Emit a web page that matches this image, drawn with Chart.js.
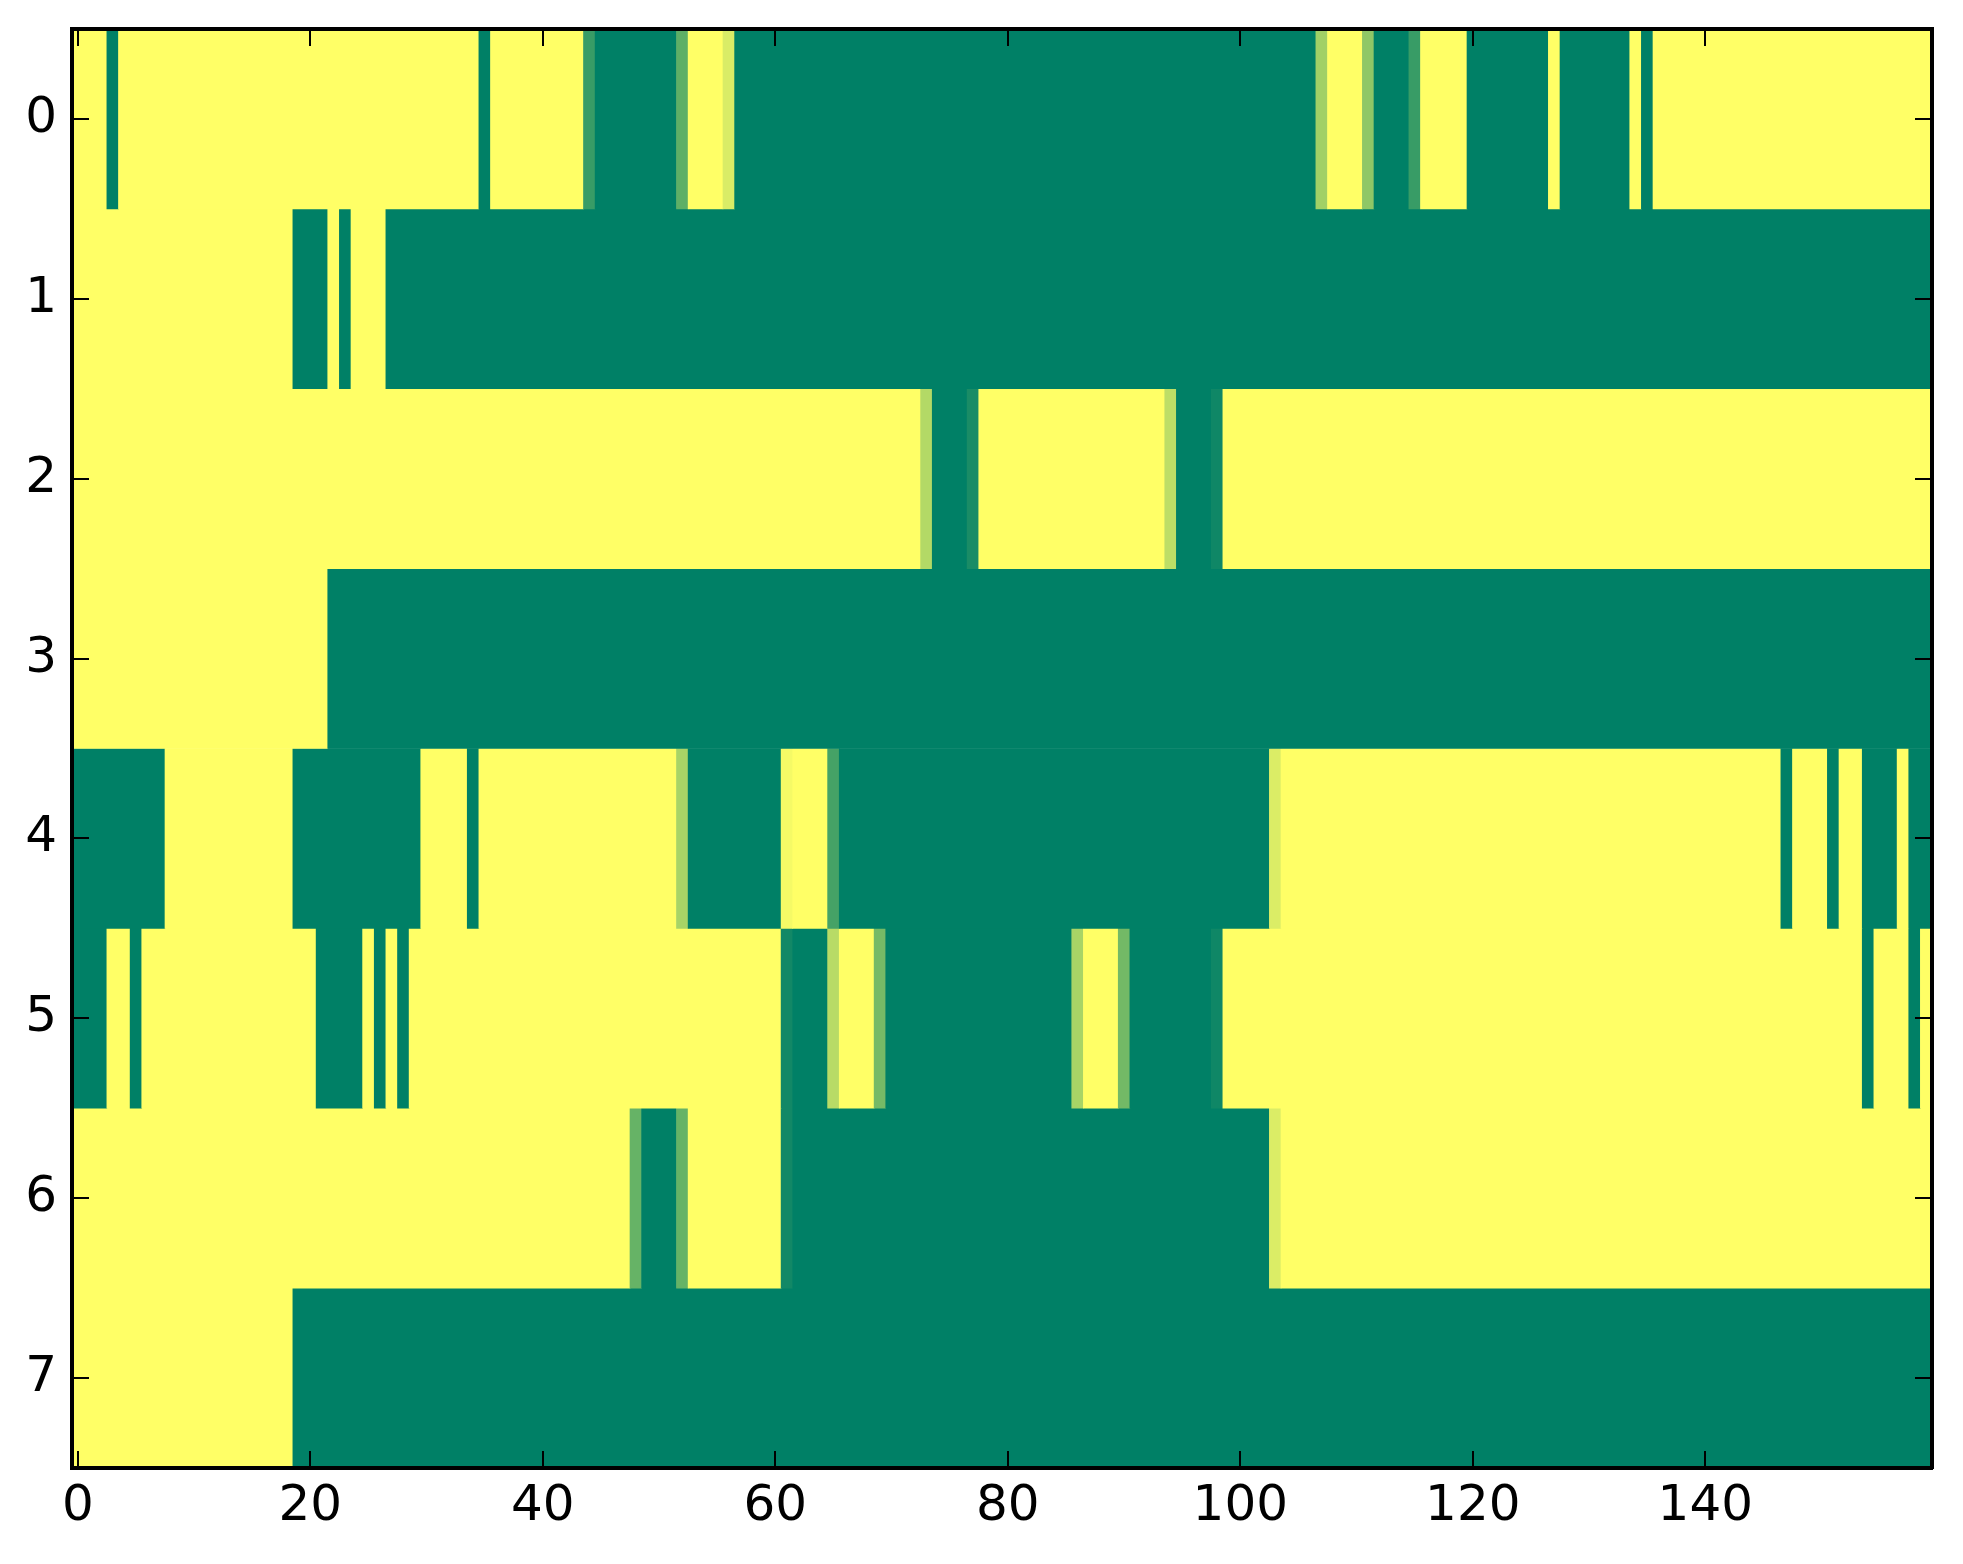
<!DOCTYPE html>
<html>
<head>
<meta charset="utf-8">
<title>heatmap</title>
<script src="https://cdn.jsdelivr.net/npm/chart.js@4.4.1/dist/chart.umd.min.js"></script>
<style>
  html, body { margin: 0; padding: 0; background: #fff; }
  #heatmap { display: block; }
</style>
</head>
<body>
<canvas id="heatmap" width="1963" height="1564"></canvas>
<script>
const rowLabels = ['0', '1', '2', '3', '4', '5', '6', '7'];
const xTicks = [0, 20, 40, 60, 80, 100, 120, 140];
const yTicks = [0, 1, 2, 3, 4, 5, 6, 7];

const row0 = [
    1,1,1,0,1,1,1,1,1,1,
    1,1,1,1,1,1,1,1,1,1,
    1,1,1,1,1,1,1,1,1,1,
    1,1,1,1,1,0,1,1,1,1,
    1,1,1,1,0.22,0,0,0,0,0,
    0,0,0.37,1,1,1,0.85,0,0,0,
    0,0,0,0,0,0,0,0,0,0,
    0,0,0,0,0,0,0,0,0,0,
    0,0,0,0,0,0,0,0,0,0,
    0,0,0,0,0,0,0,0,0,0,
    0,0,0,0,0,0,0,0.63,1,1,
    1,0.56,0,0,0,0.22,1,1,1,1,
    0,0,0,0,0,0,0,1,0,0,
    0,0,0,0,1,0,1,1,1,1,
    1,1,1,1,1,1,1,1,1,1,
    1,1,1,1,1,1,1,1,1,1
];
const row1 = [
    1,1,1,1,1,1,1,1,1,1,
    1,1,1,1,1,1,1,1,1,0,
    0,0,1,0,1,1,1,0,0,0,
    0,0,0,0,0,0,0,0,0,0,
    0,0,0,0,0,0,0,0,0,0,
    0,0,0,0,0,0,0,0,0,0,
    0,0,0,0,0,0,0,0,0,0,
    0,0,0,0,0,0,0,0,0,0,
    0,0,0,0,0,0,0,0,0,0,
    0,0,0,0,0,0,0,0,0,0,
    0,0,0,0,0,0,0,0,0,0,
    0,0,0,0,0,0,0,0,0,0,
    0,0,0,0,0,0,0,0,0,0,
    0,0,0,0,0,0,0,0,0,0,
    0,0,0,0,0,0,0,0,0,0,
    0,0,0,0,0,0,0,0,0,0
];
const row2 = [
    1,1,1,1,1,1,1,1,1,1,
    1,1,1,1,1,1,1,1,1,1,
    1,1,1,1,1,1,1,1,1,1,
    1,1,1,1,1,1,1,1,1,1,
    1,1,1,1,1,1,1,1,1,1,
    1,1,1,1,1,1,1,1,1,1,
    1,1,1,1,1,1,1,1,1,1,
    1,1,1,0.7,0,0,0,0.1,1,1,
    1,1,1,1,1,1,1,1,1,1,
    1,1,1,1,0.74,0,0,0,0.06,1,
    1,1,1,1,1,1,1,1,1,1,
    1,1,1,1,1,1,1,1,1,1,
    1,1,1,1,1,1,1,1,1,1,
    1,1,1,1,1,1,1,1,1,1,
    1,1,1,1,1,1,1,1,1,1,
    1,1,1,1,1,1,1,1,1,1
];
const row3 = [
    1,1,1,1,1,1,1,1,1,1,
    1,1,1,1,1,1,1,1,1,1,
    1,1,0,0,0,0,0,0,0,0,
    0,0,0,0,0,0,0,0,0,0,
    0,0,0,0,0,0,0,0,0,0,
    0,0,0,0,0,0,0,0,0,0,
    0,0,0,0,0,0,0,0,0,0,
    0,0,0,0,0,0,0,0,0,0,
    0,0,0,0,0,0,0,0,0,0,
    0,0,0,0,0,0,0,0,0,0,
    0,0,0,0,0,0,0,0,0,0,
    0,0,0,0,0,0,0,0,0,0,
    0,0,0,0,0,0,0,0,0,0,
    0,0,0,0,0,0,0,0,0,0,
    0,0,0,0,0,0,0,0,0,0,
    0,0,0,0,0,0,0,0,0,0
];
const row4 = [
    0,0,0,0,0,0,0,0,1,1,
    1,1,1,1,1,1,1,1,1,0,
    0,0,0,0,0,0,0,0,0,0,
    1,1,1,1,0,1,1,1,1,1,
    1,1,1,1,1,1,1,1,1,1,
    1,1,0.66,0,0,0,0,0,0,0,
    0,0.96,1,1,1,0.27,0,0,0,0,
    0,0,0,0,0,0,0,0,0,0,
    0,0,0,0,0,0,0,0,0,0,
    0,0,0,0,0,0,0,0,0,0,
    0,0,0,0.86,1,1,1,1,1,1,
    1,1,1,1,1,1,1,1,1,1,
    1,1,1,1,1,1,1,1,1,1,
    1,1,1,1,1,1,1,1,1,1,
    1,1,1,1,1,1,1,0,1,1,
    1,0,1,1,0,0,0,1,0,0
];
const row5 = [
    0,0,0,1,1,0,1,1,1,1,
    1,1,1,1,1,1,1,1,1,1,
    1,0,0,0,0,1,0,1,0,1,
    1,1,1,1,1,1,1,1,1,1,
    1,1,1,1,1,1,1,1,1,1,
    1,1,1,1,1,1,1,1,1,1,
    1,0.07,0,0,0,0.72,1,1,1,0.46,
    0,0,0,0,0,0,0,0,0,0,
    0,0,0,0,0,0,0.66,1,1,1,
    0.45,0,0,0,0,0,0,0,0.06,1,
    1,1,1,1,1,1,1,1,1,1,
    1,1,1,1,1,1,1,1,1,1,
    1,1,1,1,1,1,1,1,1,1,
    1,1,1,1,1,1,1,1,1,1,
    1,1,1,1,1,1,1,1,1,1,
    1,1,1,1,0,1,1,1,0,1
];
const row6 = [
    1,1,1,1,1,1,1,1,1,1,
    1,1,1,1,1,1,1,1,1,1,
    1,1,1,1,1,1,1,1,1,1,
    1,1,1,1,1,1,1,1,1,1,
    1,1,1,1,1,1,1,1,0.4,0,
    0,0,0.4,1,1,1,1,1,1,1,
    1,0.07,0,0,0,0,0,0,0,0,
    0,0,0,0,0,0,0,0,0,0,
    0,0,0,0,0,0,0,0,0,0,
    0,0,0,0,0,0,0,0,0,0,
    0,0,0,0.86,1,1,1,1,1,1,
    1,1,1,1,1,1,1,1,1,1,
    1,1,1,1,1,1,1,1,1,1,
    1,1,1,1,1,1,1,1,1,1,
    1,1,1,1,1,1,1,1,1,1,
    1,1,1,1,1,1,1,1,1,1
];
const row7 = [
    1,1,1,1,1,1,1,1,1,1,
    1,1,1,1,1,1,1,1,1,0,
    0,0,0,0,0,0,0,0,0,0,
    0,0,0,0,0,0,0,0,0,0,
    0,0,0,0,0,0,0,0,0,0,
    0,0,0,0,0,0,0,0,0,0,
    0,0,0,0,0,0,0,0,0,0,
    0,0,0,0,0,0,0,0,0,0,
    0,0,0,0,0,0,0,0,0,0,
    0,0,0,0,0,0,0,0,0,0,
    0,0,0,0,0,0,0,0,0,0,
    0,0,0,0,0,0,0,0,0,0,
    0,0,0,0,0,0,0,0,0,0,
    0,0,0,0,0,0,0,0,0,0,
    0,0,0,0,0,0,0,0,0,0,
    0,0,0,0,0,0,0,0,0,0
];

const rows = [row0, row1, row2, row3, row4, row5, row6, row7];

// matplotlib "summer" colormap: (v, 0.5 + v/2, 0.4)
function summer(v) {
    const r = Math.round(255 * v);
    const g = Math.round(255 * (0.5 + 0.5 * v));
    return `rgb(${r}, ${g}, 102)`;
}

// neighbouring cells with the same value become one bar, so no seams show
function toRuns(values) {
    const runs = [];
    values.forEach((v, c) => {
        const last = runs[runs.length - 1];
        if (last && last.value === v) {
            last.end = c;
        } else {
            runs.push({ value: v, start: c, end: c });
        }
    });
    return runs;
}

function buildDatasets() {
    return rows.map((values, r) => {
        const runs = toRuns(values);
        return {
            label: rowLabels[r],
            data: runs.map(run => ({ x: [run.start - 0.5, run.end + 0.5], y: r })),
            backgroundColor: runs.map(run => summer(run.value)),
            borderWidth: 0,
            grouped: false,
            barPercentage: 1,
            categoryPercentage: 1
        };
    });
}

function frameAxis(position, showLabels) {
    const horizontal = position === 'top' || position === 'bottom';
    const sizes = { bottom: 96, top: 0, left: 72, right: 0 };
    return {
        type: 'linear',
        position,
        offset: false,
        min: -0.5,
        max: horizontal ? 159.5 : 7.5,
        reverse: !horizontal,
        afterBuildTicks: scale => {
            scale.ticks = (horizontal ? xTicks : yTicks).map(value => ({ value }));
        },
        afterFit: scale => {
            if (horizontal) {
                scale.height = sizes[position];
            } else {
                scale.width = sizes[position];
            }
            // keep the frame where the reference has it
            scale.paddingTop = 0;
            scale.paddingBottom = 0;
            scale.paddingLeft = 0;
            scale.paddingRight = 0;
        },
        border: { display: true, color: '#000', width: 4, z: 2 },
        grid: {
            offset: false,
            drawOnChartArea: false,
            drawTicks: true,
            tickLength: -17,
            color: '#000',
            lineWidth: 2,
            z: 1
        },
        ticks: {
            display: showLabels,
            autoSkip: false,
            maxRotation: 0,
            color: '#000',
            padding: horizontal ? 26 : 32,
            font: { family: 'DejaVu Sans', size: 50 }
        }
    };
}

const ctx = document.getElementById('heatmap').getContext('2d');
new Chart(ctx, {
    type: 'bar',
    data: { datasets: buildDatasets() },
    options: {
        indexAxis: 'y',
        responsive: false,
        animation: false,
        devicePixelRatio: 1,
        events: [],
        layout: { padding: { left: 0, top: 29, right: 31, bottom: 0 } },
        plugins: {
            legend: { display: false },
            tooltip: { enabled: false }
        },
        scales: {
            x: frameAxis('bottom', true),
            x2: frameAxis('top', false),
            y: frameAxis('left', true),
            y2: frameAxis('right', false)
        }
    }
});
</script>
</body>
</html>
